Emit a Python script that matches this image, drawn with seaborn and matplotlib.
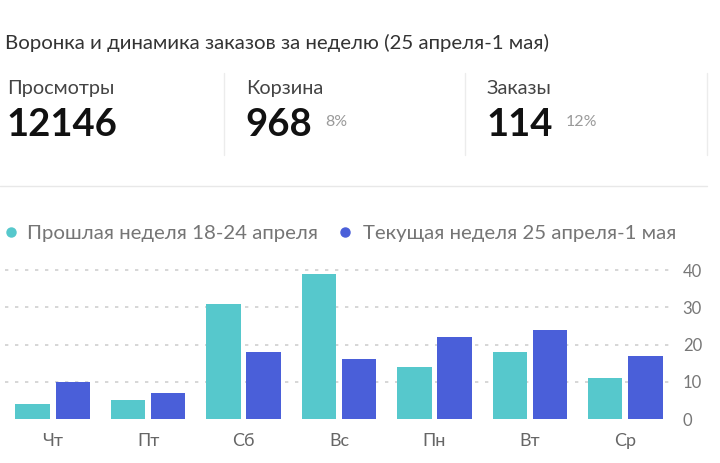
import matplotlib
matplotlib.use("Agg")
import matplotlib.pyplot as plt
from matplotlib.lines import Line2D
import pandas as pd
import seaborn as sns

# data
days = ["Чт", "Пт", "Сб", "Вс", "Пн", "Вт", "Ср"]
prev_week = [4, 5, 31, 39, 14, 18, 11]
curr_week = [10, 7, 18, 16, 22, 24, 17]
prev_label = "Прошлая неделя 18-24 апреля"
curr_label = "Текущая неделя 25 апреля-1 мая"

title = "Воронка и динамика заказов за неделю (25 апреля-1 мая)"
kpi_names = ["Просмотры", "Корзина", "Заказы"]
kpi_values = ["12146", "968", "114"]
kpi_rates = ["", "8%", "12%"]
y_ticks = [0, 10, 20, 30, 40]

CYAN = "#56c8cc"
BLUE = "#4a5fd9"

sns.set_theme(style="white")
plt.rcParams["font.family"] = ["Lato", "DejaVu Sans"]

W, H = 720, 463
fig = plt.figure(figsize=(W / 100, H / 100), dpi=100)


def fx(x):
    return x / W


def fy(y):
    return 1 - y / H


# header
fig.text(fx(5), fy(49.5), title, fontsize=14.7, color="#333333", va="baseline")

kpi_x = [7, 246, 487]
for name, val, rate, x in zip(kpi_names, kpi_values, kpi_rates, kpi_x):
    fig.text(fx(x), fy(94), name, fontsize=14.3, color="#444444", va="baseline")
    t = fig.text(fx(x - 1), fy(136.5), val, fontsize=27.5, fontweight="bold",
                 color="#111111", va="baseline")
    if rate:
        fig.canvas.draw()
        bb = t.get_window_extent()
        fig.text(fx(bb.x1 + 13), fy(126), rate, fontsize=11.5, color="#9a9a9a",
                 va="baseline")

for x in [224, 465, 707]:
    fig.add_artist(Line2D([fx(x), fx(x)], [fy(73), fy(155)],
                          transform=fig.transFigure, color="#ececec", lw=1))
fig.add_artist(Line2D([fx(0), fx(707)], [fy(186), fy(186)],
                      transform=fig.transFigure, color="#e8e8e8", lw=1))

# legend
for color, label, xd, xt in [(CYAN, prev_label, 11, 27), (BLUE, curr_label, 345, 363)]:
    fig.add_artist(Line2D([fx(xd)], [fy(231.5)], transform=fig.transFigure,
                          marker="o", markersize=6.5, color=color, lw=0))
    fig.text(fx(xt), fy(239), label, fontsize=14.7, color="#757575", va="baseline")

# bars
df = pd.DataFrame({
    "day": days * 2,
    "value": prev_week + curr_week,
    "week": [prev_label] * len(days) + [curr_label] * len(days),
})

ax = fig.add_axes([fx(5), 1 - 419 / H, 668 / W, (419 - 266.5) / H])
sns.barplot(data=df, x="day", y="value", hue="week", order=days,
            palette=[CYAN, BLUE], saturation=1, width=0.84, gap=0.14,
            linewidth=0, legend=False, ax=ax)

ax.set_xlim(-0.5, 6.5)
ax.set_ylim(0, 41)
ax.set_yticks(y_ticks)
ax.yaxis.tick_right()
ax.set_xlabel("")
ax.set_ylabel("")
ax.tick_params(axis="y", length=0, pad=7, labelsize=12, labelcolor="#777777")
ax.tick_params(axis="x", length=0, pad=10, labelsize=13, labelcolor="#666666")
for s in ax.spines.values():
    s.set_visible(False)
ax.grid(axis="y", color="#cfcfcf", linestyle=(0, (2, 4)), linewidth=1.2)
ax.set_axisbelow(True)
ax.get_ygridlines()[0].set_visible(False)

fig.savefig("out.png", dpi=100, facecolor="white")
